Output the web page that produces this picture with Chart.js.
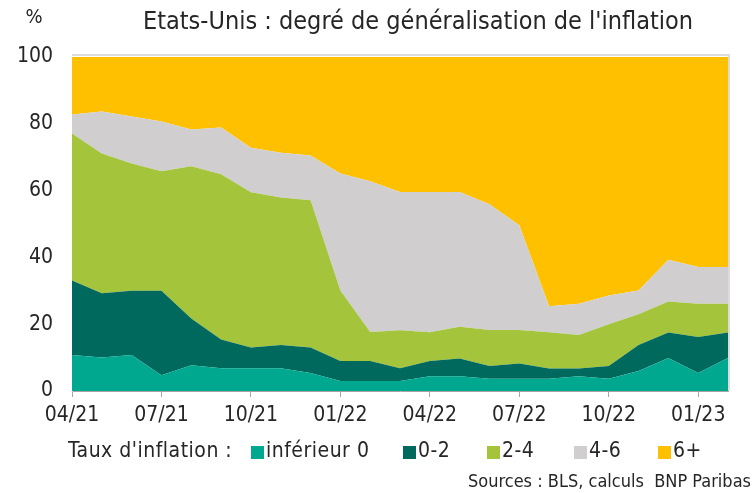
<!DOCTYPE html>
<html>
<head>
<meta charset="utf-8">
<script src="https://cdn.jsdelivr.net/npm/chart.js@4.4.0/dist/chart.umd.min.js"></script>
<style>
  body { margin: 0; background: #fff; }
  #wrap { width: 755px; height: 493px; }
</style>
</head>
<body>
<div id="wrap"><canvas id="inflationChart" width="755" height="493"></canvas></div>
<script>
// months, 04/21 -> 02/23
var months = ['04/21','05/21','06/21','07/21','08/21','09/21','10/21','11/21','12/21',
              '01/22','02/22','03/22','04/22','05/22','06/22','07/22','08/22','09/22',
              '10/22','11/22','12/22','01/23','02/23'];

// share of CPI components by inflation rate (%), stacked
var below0 = [10.8,10.0,10.8,4.7,7.7,6.8,6.8,6.8,5.4,3.0,3.0,3.0,4.4,4.4,3.7,3.7,3.7,4.4,3.7,6.0,9.9,5.4,9.9];
var from0to2 = [22.3,19.3,19.2,25.3,14.0,8.6,6.2,7.0,7.6,6.0,6.0,3.8,4.6,5.3,3.8,4.5,3.0,2.3,3.8,7.8,7.6,10.8,7.6];
var from2to4 = [44.0,41.8,38.1,35.8,45.6,49.5,46.5,44.1,44.1,21.1,8.7,11.4,8.6,9.5,10.8,10.1,10.9,10.1,12.5,9.2,9.3,9.9,8.6];
var from4to6 = [5.7,12.6,14.1,14.9,11.0,14.0,13.3,13.4,13.4,35.0,45.1,41.4,42.0,40.4,37.6,31.3,7.8,9.3,8.6,7.1,12.5,11.0,11.0];
var above6 = [17.2,16.3,17.8,19.3,21.7,21.1,27.2,28.7,29.5,34.9,37.2,40.4,40.4,40.4,44.1,50.4,74.6,73.9,71.4,69.9,60.7,62.9,62.9];

var seriesNames = ['inférieur 0', '0-2', '2-4', '4-6', '6+'];
var seriesColors = ['#00a88f', '#00695e', '#a3c43b', '#d0cece', '#ffc000'];
var yTicks = [0, 20, 40, 60, 80, 100];

var FONT = '"Liberation Sans Narrow", "DejaVu Sans Condensed", sans-serif';
var TEXT = '#262626';

var allSeries = [below0, from0to2, from2to4, from4to6, above6];
var datasets = allSeries.map(function (vals, i) {
    return {
        label: seriesNames[i],
        data: vals,
        backgroundColor: seriesColors[i],
        borderWidth: 0,
        pointRadius: 0,
        tension: 0,
        fill: i === 0 ? 'origin' : '-1'
    };
});

// title, "%" unit, legend and source line
var extras = {
    id: 'extras',
    beforeDatasetsDraw: function (chart) {
        var ctx = chart.ctx, a = chart.chartArea;
        ctx.save();
        ctx.strokeStyle = '#dcdcdc';
        ctx.lineWidth = 2;
        ctx.beginPath();
        ctx.moveTo(a.left, a.top - 2);
        ctx.lineTo(a.right + 1, a.top - 2);
        ctx.lineTo(a.right + 1, a.bottom);
        ctx.stroke();
        ctx.restore();
    },
    afterDraw: function (chart) {
        var ctx = chart.ctx;
        ctx.save();
        ctx.fillStyle = TEXT;
        ctx.textBaseline = 'middle';

        ctx.font = '25px ' + FONT;
        ctx.textAlign = 'center';
        ctx.fillText("Etats-Unis : degré de généralisation de l'inflation", 418, 22);

        ctx.font = '20px ' + FONT;
        ctx.fillText('%', 34, 18);

        ctx.font = '21px ' + FONT;
        ctx.textAlign = 'left';
        ctx.letterSpacing = '0.5px';
        ctx.fillText("Taux d'inflation :", 68, 452);

        var boxX = [251, 403, 487, 574, 658];
        chart.data.datasets.forEach(function (ds, i) {
            ctx.fillStyle = ds.backgroundColor;
            ctx.fillRect(boxX[i], 446, 13, 13);
            ctx.fillStyle = TEXT;
            ctx.fillText(ds.label, boxX[i] + 15, 452);
        });

        ctx.letterSpacing = '0px';
        ctx.font = '18px ' + FONT;
        ctx.textAlign = 'right';
        ctx.fillText('Sources : BLS, calculs  BNP Paribas', 751, 482);
        ctx.restore();
    }
};

new Chart(document.getElementById('inflationChart'), {
    type: 'line',
    data: { labels: months, datasets: datasets },
    options: {
        responsive: false,
        animation: false,
        devicePixelRatio: 1,
        layout: { padding: { top: 57, right: 27, left: 0, bottom: 0 } },
        plugins: {
            legend: { display: false },
            title: { display: false },
            tooltip: { enabled: false }
        },
        scales: {
            x: {
                offset: false,
                grid: {
                    drawOnChartArea: false,
                    drawTicks: true,
                    tickLength: 6,
                    color: function (c) { return c.index % 3 === 0 ? '#a6a6a6' : 'rgba(0,0,0,0)'; }
                },
                border: { display: true, color: '#a6a6a6', width: 1 },
                ticks: {
                    autoSkip: false,
                    maxRotation: 0,
                    padding: 6,
                    color: TEXT,
                    font: { family: FONT, size: 21 },
                    callback: function (v, i) { return i % 3 === 0 ? months[i] : ''; }
                },
                afterFit: function (scale) { scale.height = 102; }
            },
            y: {
                stacked: true,
                min: 0,
                max: 100,
                afterBuildTicks: function (scale) {
                    scale.ticks = yTicks.map(function (v) { return { value: v }; });
                },
                grid: { drawOnChartArea: false, drawTicks: false },
                border: { display: true, color: '#d0d0d0', width: 1 },
                ticks: {
                    padding: 19,
                    color: TEXT,
                    font: { family: FONT, size: 21 }
                },
                afterFit: function (scale) { scale.width = 72; }
            }
        }
    },
    plugins: [extras]
});
</script>
</body>
</html>
